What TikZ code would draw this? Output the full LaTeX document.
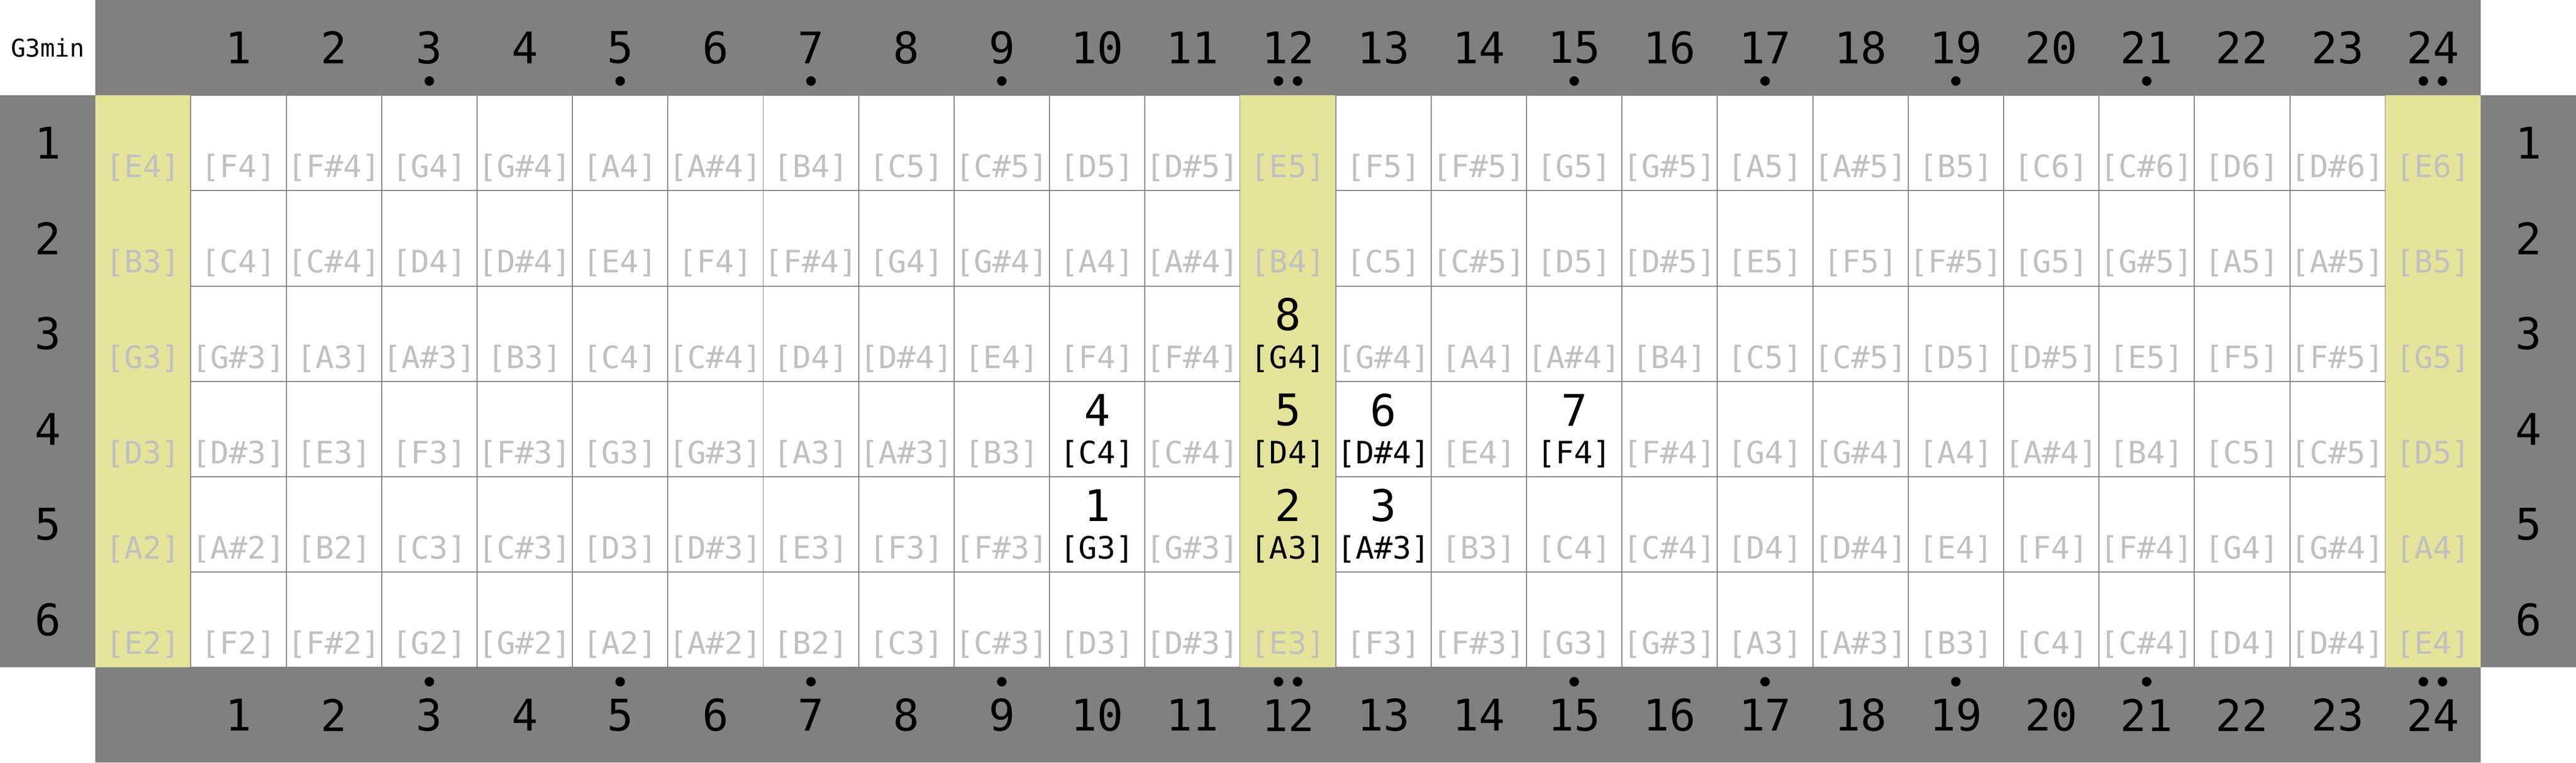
\documentclass[tikz,border=0pt]{standalone}
\usepackage{fontspec}
\setmonofont{DejaVu Sans Mono}
\definecolor{bandgray}{RGB}{128,128,128}
\definecolor{markyellow}{RGB}{227,228,154}
\definecolor{notegray}{RGB}{192,192,192}
\newcommand{\pcname}[1]{\ifcase#1\relax C\or C\#\or D\or D\#\or E\or F\or F\#\or G\or G\#\or A\or A\#\or B\fi}

\begin{document}
\begin{tikzpicture}[
    cell/.style={draw=bandgray,line width=0.3pt,fill=white,minimum width=1cm,minimum height=1cm,inner sep=0pt,outer sep=0pt},
    markcell/.style={cell,draw=none,fill=markyellow},
    big/.style={font=\ttfamily\fontsize{13}{15}\selectfont,inner sep=0pt},
    keylbl/.style={font=\ttfamily\fontsize{7.3}{9}\selectfont,inner sep=0pt},
    notelbl/.style={font=\ttfamily\fontsize{9.2}{11}\selectfont,inner sep=0pt,text=notegray},
    onlbl/.style={notelbl,text=black},
    fretdot/.style={circle,fill=black,inner sep=0pt,minimum size=0.1cm}
]
    \useasboundingbox (0,0) rectangle (27,-8);

    % bands
    \fill[bandgray] (1,0) rectangle (26,-1);
    \fill[bandgray] (1,-7) rectangle (26,-8);
    \fill[bandgray] (0,-1) rectangle (1,-7);
    \fill[bandgray] (26,-1) rectangle (27,-7);
    \node[keylbl] (key) at (0.5,-0.5) {G3min};

    % scale notes: fret/string/degree
    \foreach \f/\s/\d in {10/5/1,12/5/2,13/5/3,10/4/4,12/4/5,13/4/6,15/4/7,12/3/8}
        {\expandafter\xdef\csname deg-\s-\f\endcsname{\d}}

    % fretboard
    \foreach \s/\openmidi in {1/64,2/59,3/55,4/50,5/45,6/40} {
        \node[big] (sl-\s) at (0.5,-\s-0.5) {\s};
        \node[big] (sr-\s) at (26.5,-\s-0.5) {\s};
        \foreach \f in {0,...,24} {
            \pgfmathtruncatemacro{\mk}{mod(\f,12)}
            \pgfmathtruncatemacro{\midi}{\openmidi+\f}
            \pgfmathtruncatemacro{\pc}{mod(\midi,12)}
            \pgfmathtruncatemacro{\oct}{floor(\midi/12)-1}
            \ifnum\mk=0
                \node[markcell] (c-\s-\f) at (\f+1.5,-\s-0.5) {};
            \else
                \node[cell] (c-\s-\f) at (\f+1.5,-\s-0.5) {};
            \fi
            \ifcsname deg-\s-\f\endcsname
                \node[onlbl] (l-\s-\f) at ([yshift=-0.26cm]c-\s-\f.center) {[\pcname{\pc}\oct]};
                \node[big] (d-\s-\f) at ([yshift=0.2cm]c-\s-\f.center) {\csname deg-\s-\f\endcsname};
            \else
                \node[notelbl] (l-\s-\f) at ([yshift=-0.26cm]c-\s-\f.center) {[\pcname{\pc}\oct]};
            \fi
        }
    }

    % fret numbers
    \foreach \f in {1,...,24} {
        \node[big] (ft-\f) at (\f+1.5,-0.5) {\f};
        \node[big] (fb-\f) at (\f+1.5,-7.5) {\f};
    }

    % inlay dots
    \foreach \f in {3,5,7,9,15,17,19,21} {
        \node[fretdot] (dt-\f) at (\f+1.5,-0.85) {};
        \node[fretdot] (db-\f) at (\f+1.5,-7.15) {};
    }
    \foreach \f in {12,24} {
        \node[fretdot] (dtl-\f) at (\f+1.4,-0.85) {};
        \node[fretdot] (dtr-\f) at (\f+1.6,-0.85) {};
        \node[fretdot] (dbl-\f) at (\f+1.4,-7.15) {};
        \node[fretdot] (dbr-\f) at (\f+1.6,-7.15) {};
    }
\end{tikzpicture}
\end{document}
